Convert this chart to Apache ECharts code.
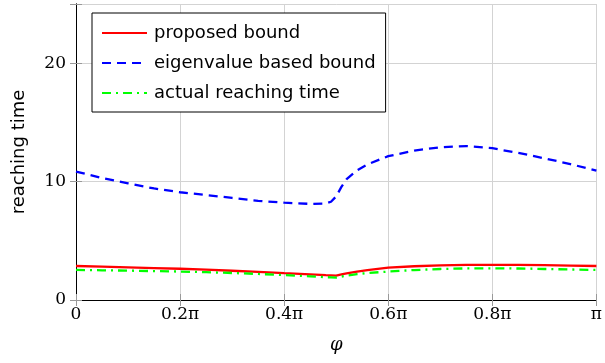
<!DOCTYPE html>
<html>
<head>
<meta charset="utf-8">
<script src="https://cdn.jsdelivr.net/npm/echarts@6/dist/echarts.min.js"></script>
<style>html,body{margin:0;padding:0;background:#fff}#c{width:605px;height:363px}</style>
</head>
<body>
<div id="c"></div>
<script>
// phi in units of pi
const phi   = [0,0.05,0.1,0.15,0.2,0.25,0.3,0.35,0.4,0.45,0.48,0.49,0.5,0.51,0.52,0.54,0.56,0.6,0.65,0.7,0.75,0.8,0.85,0.9,0.95,1.0];
const eigen = [10.85,10.3,9.85,9.42,9.1,8.87,8.62,8.38,8.22,8.12,8.15,8.3,8.75,9.55,10.2,10.95,11.45,12.15,12.62,12.9,13.0,12.82,12.42,11.97,11.48,10.92];
const proposed = [2.87,2.82,2.76,2.70,2.64,2.56,2.47,2.38,2.27,2.17,2.10,2.08,2.06,2.16,2.25,2.40,2.52,2.73,2.85,2.92,2.96,2.97,2.96,2.94,2.91,2.87];
const actual = [2.54,2.51,2.48,2.44,2.40,2.35,2.28,2.20,2.11,2.00,1.93,1.91,1.89,1.98,2.06,2.19,2.28,2.40,2.53,2.62,2.67,2.68,2.66,2.62,2.58,2.54];
const xTicks = [0,0.2,0.4,0.6,0.8,1.0];
const yTicks = [0,10,20];
const seriesNames = ['proposed bound','eigenvalue based bound','actual reaching time'];

function pair(ys){ return phi.map((x,i)=>[x, ys[i]]); }
function xLabel(v){
  if (Math.abs(v) < 1e-9) return '0';
  if (Math.abs(v-1) < 1e-9) return 'π';
  return (Math.round(v*10)/10).toFixed(1) + 'π';
}
const serif = 'DejaVu Serif';
const sans = 'DejaVu Sans';
const chart = echarts.init(document.getElementById('c'), null, {renderer:'canvas'});
const tickStyle = {show:true, inside:true, length:6, lineStyle:{color:'#999', width:1}};
const gridLine = {show:true, lineStyle:{color:'#d3d3d3', width:1}};
chart.setOption({
  animation:false,
  backgroundColor:'#fff',
  grid:{left:76, right:4, top:4, bottom:63, containLabel:false},
  xAxis:[{
    type:'value', min:0, max:1, interval:0.2,
    name:'φ', nameLocation:'middle', nameGap:36,
    nameTextStyle:{fontFamily:serif, fontStyle:'italic', fontSize:18, color:'#000'},
    axisLine:{show:true, lineStyle:{color:'#000', width:1}},
    axisTick:tickStyle,
    axisLabel:{formatter:xLabel, fontFamily:serif, fontSize:17, color:'#000', margin:6},
    splitLine:gridLine
  },{
    type:'value', min:0, max:1, interval:0.2, position:'top',
    axisLine:{show:true, lineStyle:{color:'#000', width:1}},
    axisTick:tickStyle, axisLabel:{show:false}, splitLine:{show:false}
  }],
  yAxis:[{
    type:'value', min:0, max:25, interval:10,
    name:'reaching time', nameLocation:'middle', nameGap:48, nameRotate:90,
    nameTextStyle:{fontFamily:sans, fontSize:18, color:'#000'},
    axisLine:{show:true, lineStyle:{color:'#000', width:1}},
    axisTick:tickStyle,
    axisLabel:{fontFamily:serif, fontSize:17, color:'#000', margin:10,
      formatter:v=> yTicks.includes(v) ? String(v) : ''},
    splitLine:gridLine
  },{
    type:'value', min:0, max:25, interval:10, position:'right',
    axisLine:{show:true, lineStyle:{color:'#000', width:1}},
    axisTick:tickStyle, axisLabel:{show:false}, splitLine:{show:false}
  }],
  legend:{
    orient:'vertical', left:92, top:13,
    padding:[11,10,10,9], itemWidth:45, itemHeight:14, itemGap:12,
    borderColor:'#000', borderWidth:1, backgroundColor:'#fff',
    itemStyle:{opacity:0},
    textStyle:{fontFamily:sans, fontSize:18, color:'#000', padding:[0,0,0,2]},
    data:seriesNames
  },
  series:[
    {name:seriesNames[0], type:'line', data:pair(proposed), symbol:'none', smooth:false,
     lineStyle:{color:'#ff0000', width:2.3, type:'solid'}, itemStyle:{color:'#ff0000'}, z:4},
    {name:seriesNames[1], type:'line', data:pair(eigen), symbol:'none', smooth:false,
     lineStyle:{color:'#0000ff', width:2.3, type:[9,6]}, itemStyle:{color:'#0000ff'}, z:3},
    {name:seriesNames[2], type:'line', data:pair(actual), symbol:'none', smooth:false,
     lineStyle:{color:'#00ff00', width:2.3, type:[9,5,2,5]}, itemStyle:{color:'#00ff00'}, z:5}
  ]
});
</script>
</body>
</html>
